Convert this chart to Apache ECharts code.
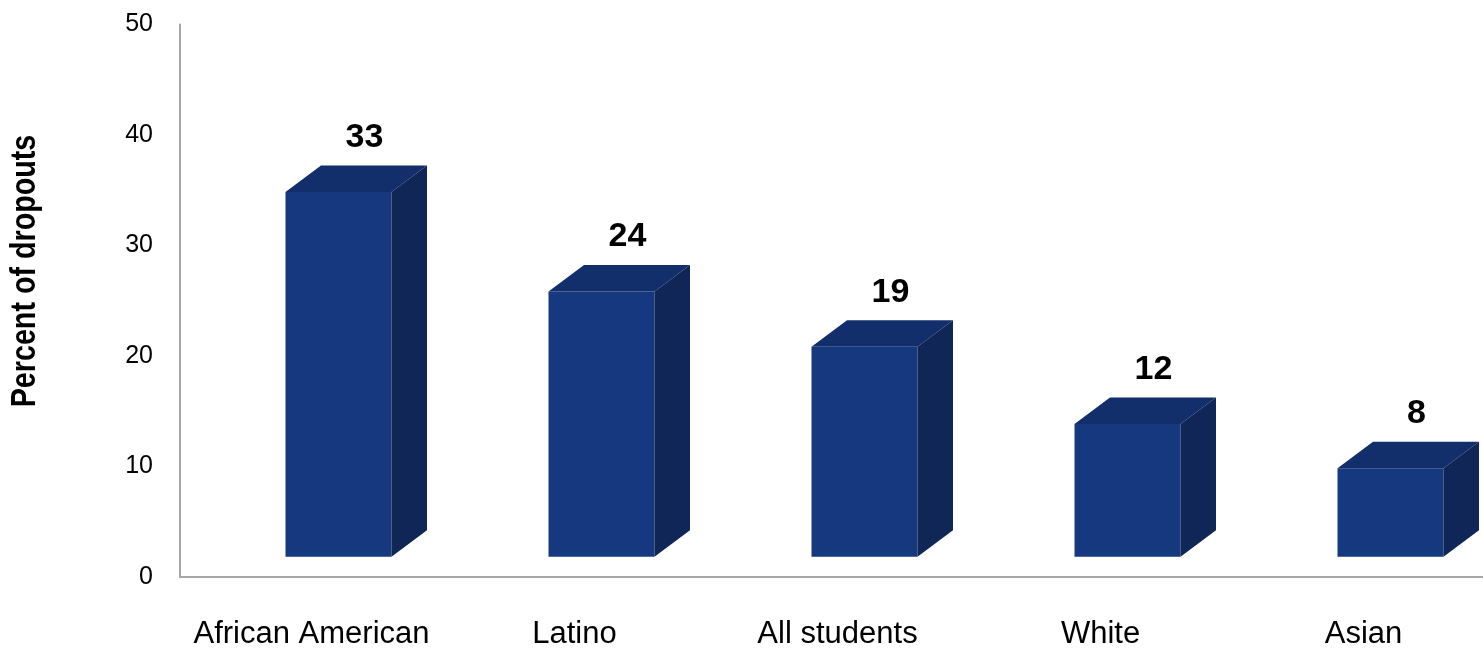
<!DOCTYPE html>
<html>
<head>
<meta charset="utf-8">
<script src="https://cdn.jsdelivr.net/npm/echarts@6/dist/echarts.min.js"></script>
<style>html,body{margin:0;padding:0;background:#fff;overflow:hidden;}#c{width:1495px;height:651px;}</style>
</head>
<body>
<div id="c"></div>
<script>
const categories = ['African American', 'Latino', 'All students', 'White', 'Asian'];
const values = [33, 24, 19, 12, 8];
const yTicks = [0, 10, 20, 30, 40, 50];
const yTitle = 'Percent of dropouts';

const chart = echarts.init(document.getElementById('c'));
const FRONT = '#16387f', SIDE = '#0f2656', TOP = '#132f6b';
const FONT = '"Liberation Sans", Arial, sans-serif';
chart.setOption({
  animation: false,
  grid: { left: 180, right: 0, top: 24.5, height: 552.5 },
  xAxis: {
    type: 'category', data: categories,
    axisLine: { lineStyle: { color: '#a6a6a6', width: 2 } },
    axisTick: { show: false },
    axisLabel: { color: '#000', fontFamily: FONT, fontSize: 31, margin: 42, interval: 0 }
  },
  yAxis: {
    type: 'value', min: yTicks[0], max: yTicks[yTicks.length - 1], interval: 10,
    splitLine: { show: false },
    axisLine: { show: true, lineStyle: { color: '#a6a6a6', width: 2 } },
    axisTick: { show: false },
    axisLabel: { color: '#000', fontFamily: FONT, fontSize: 25, margin: 27 }
  },
  graphic: [{
    type: 'text', x: 25, y: 271, rotation: Math.PI / 2, scaleX: 0.82,
    style: { text: yTitle, font: 'bold 35px ' + FONT, fill: '#000', align: 'center', verticalAlign: 'middle' }
  }],
  series: [{
    type: 'custom',
    data: values.map((v, i) => [i, v]),
    renderItem: function (params, api) {
      const i = api.value(0), v = api.value(1);
      const base = api.coord([i, 0]);
      const top = api.coord([i, v]);
      const lift = 20.3, dx = 35.5, dy = 26.5, w = 106;
      const cx = base[0] + 27;
      const x0 = cx - w / 2, x1 = cx + w / 2;
      const yb = base[1] - lift, yt = top[1] - lift;
      return {
        type: 'group',
        children: [
          { type: 'rect', shape: { x: x0, y: yt, width: w, height: yb - yt }, style: { fill: FRONT } },
          { type: 'polygon', shape: { points: [[x0, yt], [x1, yt], [x1 + dx, yt - dy], [x0 + dx, yt - dy]] }, style: { fill: TOP } },
          { type: 'polygon', shape: { points: [[x1, yt], [x1 + dx, yt - dy], [x1 + dx, yb - dy], [x1, yb]] }, style: { fill: SIDE } },
          { type: 'text', x: cx + 26, y: yt - dy - 28, style: { text: String(v), font: 'bold 34px ' + FONT, fill: '#000', align: 'center', verticalAlign: 'middle' } }
        ]
      };
    }
  }]
});
</script>
</body>
</html>
